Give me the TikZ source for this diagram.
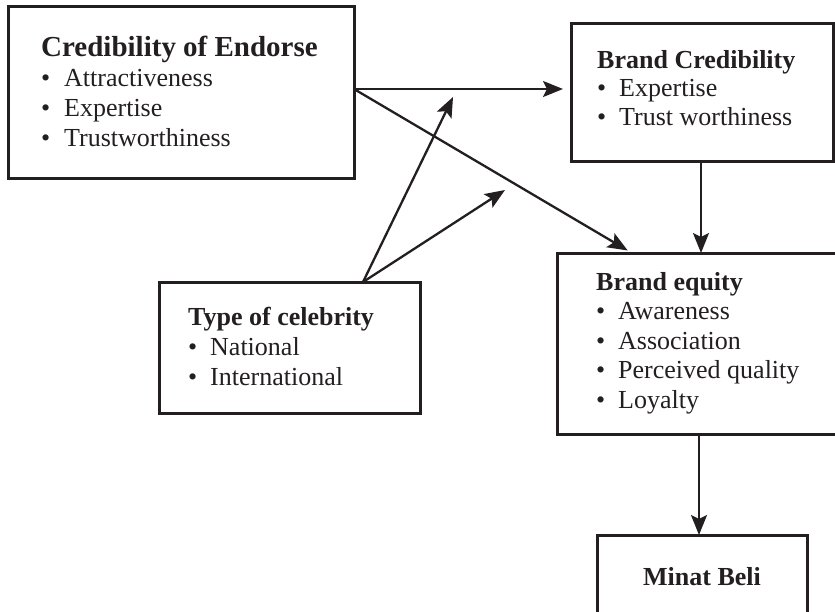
\documentclass[tikz,border=0pt]{standalone}
\usepackage{fontspec}
\setmainfont{Liberation Serif}
\usetikzlibrary{arrows.meta,calc}
\definecolor{ink}{HTML}{231F20}
\newcommand{\itm}[1]{\makebox[22pt][l]{\textbullet}#1}
\newcommand{\itmw}[1]{\makebox[23pt][l]{\textbullet}#1}
\tikzset{
  box/.style={draw=ink, line width=3pt, rectangle, outer sep=0pt, inner sep=0pt, anchor=north west},
  txt/.style={text=ink, align=left, inner sep=0pt, anchor=base west},
  arr/.style={draw=ink, line width=2.3pt, -{Stealth[length=20pt, width=16pt, inset=4pt]}}
}
\begin{document}
\begin{tikzpicture}[x=1pt, y=-1pt]
\useasboundingbox (0,0) rectangle (835,611);
\clip (0,0) rectangle (835,611);
% boxes
\node[box, minimum width=346pt, minimum height=172pt] (cred) at (8,6) {};
\node[box, minimum width=262pt, minimum height=138pt] (bc) at (571,23) {};
\node[box, minimum width=261pt, minimum height=131pt] (type) at (159,282) {};
\node[box, minimum width=288pt, minimum height=181pt] (be) at (557,253) {};
\node[box, minimum width=210pt, minimum height=105pt] (minat) at (597,535) {};
% texts (anchored at the baseline of the last line)
\node[txt, font=\fontsize{26}{30}\selectfont] (credT) at (41,146)
  {{\fontsize{29}{30}\selectfont\bfseries Credibility of Endorse}\\
   \itmw{Attractiveness}\\ \itmw{Expertise}\\ \itmw{Trustworthiness}};
\node[txt, font=\fontsize{26}{28.5}\selectfont] (bcT) at (597,125)
  {\textbf{Brand Credibility}\\ \itm{Expertise}\\ \itm{Trust worthiness}};
\node[txt, font=\fontsize{26}{30}\selectfont] (typeT) at (188,385)
  {\textbf{Type of celebrity}\\ \itm{National}\\ \itm{International}};
\node[txt, font=\fontsize{26}{29.5}\selectfont] (beT) at (596,408)
  {\textbf{Brand equity}\\ \itm{Awareness}\\ \itm{Association}\\ \itm{Perceived quality}\\ \itm{Loyalty}};
\node[text=ink, inner sep=0pt, anchor=base, font=\fontsize{26}{30}\selectfont\bfseries] (minatT) at (702,585) {Minat Beli};
% connector points
\coordinate (c1) at ($(cred.north east)+(0,83)$);
\coordinate (t1) at ($(type.north west)+(204,0)$);
\coordinate (e1) at ($(be.north west)+(75,0)$);
\coordinate (f1) at (453,97);
\coordinate (f2) at (505,190);
% connectors
\draw[arr, shorten >=8pt] (c1) -- (c1 -| bc.west);
\draw[arr, shorten >=5pt] (c1) -- (e1);
\draw[arr] (t1) -- (f1);
\draw[arr] (t1) -- (f2);
\draw[arr] ($(bc.south)+(-1,0)$) -- ($(bc.south |- be.north)+(-1,0)$);
\draw[arr] ($(be.south -| minat.north)+(-3,0)$) -- ($(minat.north)+(-3,0)$);
\end{tikzpicture}
\end{document}
